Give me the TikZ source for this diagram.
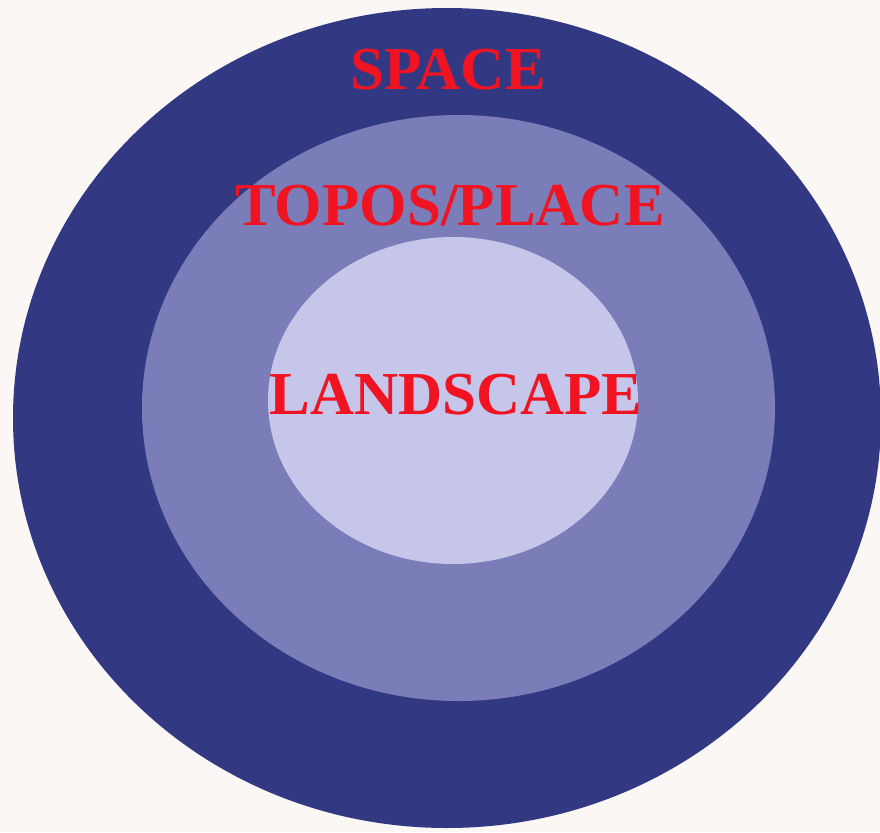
\documentclass[tikz,border=0pt]{standalone}
\usepackage{fontspec}
\setmainfont{Liberation Serif}
\definecolor{bgc}{RGB}{250,247,245}
\definecolor{outerc}{RGB}{50,56,130}
\definecolor{midc}{RGB}{123,125,184}
\definecolor{innerc}{RGB}{197,198,234}
\definecolor{labelc}{RGB}{240,20,35}
\begin{document}
\begin{tikzpicture}[x=1pt,y=-1pt,
  lbl/.style={text=labelc,font=\fontsize{61}{61}\selectfont\bfseries,anchor=base,inner sep=0pt}]
\useasboundingbox (0,0) rectangle (880,832);
\fill[bgc] (0,0) rectangle (880,832);
\begin{scope}
\clip (0,0) rectangle (880,832);
\fill[outerc] (447,418) ellipse [x radius=434, y radius=410];
\end{scope}
\fill[midc] (458.5,408) ellipse [x radius=316.5, y radius=293];
\fill[innerc] (453,400.5) ellipse [x radius=185, y radius=163.5];
\node[lbl] (space) at (448,90) {SPACE};
\node[lbl] (topos) at (450,225) {TOPOS/PLACE};
\node[lbl] (land) at (456,414) {LANDSCAPE};
\end{tikzpicture}
\end{document}
